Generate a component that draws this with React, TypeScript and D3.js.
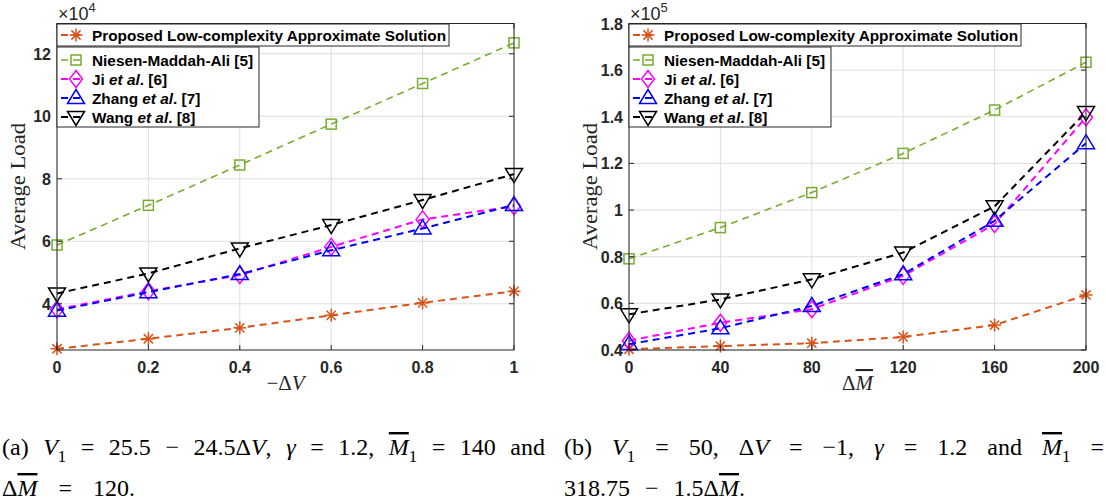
import React, { useLayoutEffect, useRef, useState } from "react";
import * as d3 from "d3";

// ---------- data ----------
const xLeft = [0, 0.2, 0.4, 0.6, 0.8, 1];
const xLeftTicks = [0, 0.2, 0.4, 0.6, 0.8, 1];
const yLeftTicks = [4, 6, 8, 10, 12];
const proposedA = [2.56, 2.88, 3.23, 3.63, 4.03, 4.4];
const niesenA = [5.88, 7.15, 8.44, 9.75, 11.05, 12.35];
const jiA = [3.82, 4.4, 4.92, 5.82, 6.7, 7.12];
const zhangA = [3.78, 4.37, 4.95, 5.71, 6.41, 7.16];
const wangA = [4.33, 4.97, 5.77, 6.52, 7.32, 8.15];

const xRight = [0, 40, 80, 120, 160, 200];
const xRightTicks = [0, 40, 80, 120, 160, 200];
const yRightTicks = [0.4, 0.6, 0.8, 1, 1.2, 1.4, 1.6, 1.8];
const proposedB = [0.403, 0.417, 0.429, 0.456, 0.507, 0.636];
const niesenB = [0.791, 0.925, 1.075, 1.243, 1.429, 1.634];
const jiB = [0.44, 0.517, 0.575, 0.718, 0.94, 1.398];
const zhangB = [0.425, 0.493, 0.589, 0.725, 0.954, 1.287];
const wangB = [0.553, 0.617, 0.703, 0.818, 1.016, 1.42];

const seriesNames = [
  [["Proposed Low-complexity Approximate Solution", false]],
  [["Niesen-Maddah-Ali [5]", false]],
  [["Ji ", false], ["et al", true], [". [6]", false]],
  [["Zhang ", false], ["et al", true], [". [7]", false]],
  [["Wang ", false], ["et al", true], [". [8]", false]],
] as [string, boolean][][];

const seriesStyle = [
  { color: "#D95319", marker: "star", lw: 2 },
  { color: "#77AC30", marker: "square", lw: 1.6 },
  { color: "#FF00FF", marker: "diamond", lw: 2 },
  { color: "#0000FF", marker: "tri-up", lw: 2 },
  { color: "#000000", marker: "tri-down", lw: 2 },
];

const AX = "#262626";
const GRID = "#dfdfdf";
const SANS = "'Liberation Sans', Arial, Helvetica, sans-serif";
const SERIF = "'Liberation Serif', 'Times New Roman', serif";

function Marker({ type, x, y, color }: { type: string; x: number; y: number; color: string }) {
  const p = { fill: "none", stroke: color, strokeWidth: 1.5 };
  if (type === "star") {
    const r = 6.5, d = 4.6;
    return (
      <g {...p}>
        <line x1={x - r} y1={y} x2={x + r} y2={y} />
        <line x1={x} y1={y - r} x2={x} y2={y + r} />
        <line x1={x - d} y1={y - d} x2={x + d} y2={y + d} />
        <line x1={x - d} y1={y + d} x2={x + d} y2={y - d} />
      </g>
    );
  }
  if (type === "square") return <rect x={x - 5} y={y - 5} width={10} height={10} {...p} />;
  if (type === "diamond")
    return <path d={`M${x},${y - 8.5}L${x + 6.5},${y}L${x},${y + 8.5}L${x - 6.5},${y}Z`} {...p} />;
  if (type === "tri-up")
    return <path d={`M${x},${y - 8.5}L${x + 8.5},${y + 5.5}L${x - 8.5},${y + 5.5}Z`} {...p} />;
  return <path d={`M${x},${y + 8.5}L${x + 8.5},${y - 5.5}L${x - 8.5},${y - 5.5}Z`} {...p} />;
}

type Seg = { t: string; it?: boolean; sub?: boolean; over?: boolean };

function Rich({ segs, size }: { segs: Seg[]; size: number }) {
  const out: any[] = [];
  let down = false;
  segs.forEach((s, i) => {
    let dy = 0;
    if (s.sub && !down) { dy = size * 0.28; down = true; }
    else if (!s.sub && down) { dy = -size * 0.28; down = false; }
    out.push(
      <tspan
        key={i}
        dy={dy || undefined}
        fontStyle={s.it ? "italic" : "normal"}
        fontSize={s.sub ? size * 0.7 : size}
        style={s.over ? { textDecoration: "overline" } : undefined}
      >
        {s.t}
      </tspan>
    );
  });
  return <>{out}</>;
}

function JText({ x, y, width, segs, size }: { x: number; y: number; width?: number; segs: Seg[]; size: number }) {
  const ref = useRef<SVGTextElement>(null);
  const [ws, setWs] = useState(0);
  useLayoutEffect(() => {
    if (!ref.current || !width) return;
    const len = ref.current.getComputedTextLength();
    const n = segs.map((s) => s.t).join("").split(" ").length - 1;
    if (n > 0) setWs(Math.max(0, (width - len) / n));
  }, []);
  return (
    <text ref={ref} x={x} y={y} fontFamily={SERIF} fontSize={size} fill="#000"
      style={{ whiteSpace: "pre", wordSpacing: ws + "px" }}>
      <Rich segs={segs} size={size} />
    </text>
  );
}

function Panel(props: {
  x0: number; x1: number; xs: number[]; xTicks: number[]; yDomain: [number, number];
  yTicks: number[]; data: number[][]; exp: string; xlabel: Seg[];
}) {
  const { x0, x1, xs, xTicks, yDomain, yTicks, data, exp, xlabel } = props;
  const top = 23.5, bottom = 350;
  const x = d3.scaleLinear().domain([xs[0], xs[xs.length - 1]]).range([x0, x1]);
  const y = d3.scaleLinear().domain(yDomain).range([bottom, top]);
  const line = d3.line<number>().x((_, i) => x(xs[i])).y((v) => y(v));
  const fmt = (v: number) => String(Math.round(v * 10) / 10);
  const tl = 5;
  const lgX = x0, lgW1 = 392, lgW2 = 202;
  return (
    <g>
      {xTicks.map((t) => (
        <line key={"gx" + t} x1={x(t)} x2={x(t)} y1={top} y2={bottom} stroke={GRID} strokeWidth={1} />
      ))}
      {yTicks.map((t) => (
        <line key={"gy" + t} x1={x0} x2={x1} y1={y(t)} y2={y(t)} stroke={GRID} strokeWidth={1} />
      ))}
      {data.map((d, si) => (
        <g key={"s" + si}>
          <path d={line(d) || ""} fill="none" stroke={seriesStyle[si].color}
            strokeWidth={seriesStyle[si].lw} strokeDasharray="7 5" />
          {d.map((v, i) => (
            <Marker key={i} type={seriesStyle[si].marker} x={x(xs[i])} y={y(v)} color={seriesStyle[si].color} />
          ))}
        </g>
      ))}
      <rect x={x0} y={top} width={x1 - x0} height={bottom - top} fill="none" stroke={AX} strokeWidth={1} />
      {xTicks.map((t) => (
        <g key={"tx" + t}>
          <line x1={x(t)} x2={x(t)} y1={bottom} y2={bottom - tl} stroke={AX} />
          <line x1={x(t)} x2={x(t)} y1={top} y2={top + tl} stroke={AX} />
          <text x={x(t)} y={373} textAnchor="middle" fontFamily={SANS} fontWeight="bold" fontSize={16} fill={AX}>
            {fmt(t)}
          </text>
        </g>
      ))}
      {yTicks.map((t) => (
        <g key={"ty" + t}>
          <line x1={x0} x2={x0 + tl} y1={y(t)} y2={y(t)} stroke={AX} />
          <line x1={x1} x2={x1 - tl} y1={y(t)} y2={y(t)} stroke={AX} />
          <text x={x0 - 6} y={y(t) + 6} textAnchor="end" fontFamily={SANS} fontWeight="bold" fontSize={16} fill={AX}>
            {fmt(t)}
          </text>
        </g>
      ))}
      <text x={x0 + 1} y={20} fontFamily={SANS} fontSize={18} fill={AX}>
        ×10<tspan fontSize={13} dy={-8}>{exp}</tspan>
      </text>
      <text x={(x0 + x1) / 2} y={390} textAnchor="middle" fontFamily={SERIF} fontSize={21} fill={AX} style={{ whiteSpace: "pre" }}>
        <Rich segs={xlabel} size={21} />
      </text>
      <text transform={`translate(${x0 - 32},186.5) rotate(-90)`} textAnchor="middle" fontFamily={SERIF}
        fontSize={22} fill={AX} textLength={127} lengthAdjust="spacingAndGlyphs">
        Average Load
      </text>
      <rect x={lgX} y={24} width={lgW1} height={22} fill="#fff" stroke={AX} strokeWidth={1} />
      <rect x={lgX} y={47} width={lgW2} height={80} fill="#fff" stroke={AX} strokeWidth={1} />
      {seriesNames.map((nm, i) => {
        const cy = i === 0 ? 35 : [60, 79, 98, 117][i - 1];
        const st = seriesStyle[i];
        return (
          <g key={"lg" + i}>
            <line x1={lgX + 4} x2={lgX + 25} y1={cy} y2={cy} stroke={st.color} strokeWidth={st.lw} strokeDasharray="7 5" />
            <Marker type={st.marker} x={lgX + 19} y={cy} color={st.color} />
            <text x={lgX + 35} y={cy + 5.5} fontFamily={SANS} fontWeight="bold" fontSize={15.35} fill="#000" style={{ whiteSpace: "pre" }}>
              {nm.map(([t, it], k) => (
                <tspan key={k} fontStyle={it ? "italic" : "normal"}>{t}</tspan>
              ))}
            </text>
          </g>
        );
      })}
    </g>
  );
}

const capA1: Seg[] = [
  { t: "(a) " }, { t: "V", it: true }, { t: "1", sub: true }, { t: " = 25.5 − 24.5Δ" }, { t: "V", it: true },
  { t: ", " }, { t: "γ", it: true }, { t: " = 1.2, " }, { t: "M", it: true, over: true }, { t: "1", sub: true },
  { t: " = 140 and" },
];
const capA2: Seg[] = [{ t: "Δ" }, { t: "M", it: true, over: true }, { t: " = 120." }];
const capB1: Seg[] = [
  { t: "(b) " }, { t: "V", it: true }, { t: "1", sub: true }, { t: " = 50, Δ" }, { t: "V", it: true },
  { t: " = −1, " }, { t: "γ", it: true }, { t: " = 1.2 and " }, { t: "M", it: true, over: true }, { t: "1", sub: true },
  { t: " =" },
];
const capB2: Seg[] = [{ t: "318.75 − 1.5Δ" }, { t: "M", it: true, over: true }, { t: "." }];

export default function App() {
  const dataA = [proposedA, niesenA, jiA, zhangA, wangA];
  const dataB = [proposedB, niesenB, jiB, zhangB, wangB];
  const CS = 24;
  return (
    <svg width={1106} height={502} style={{ position: "absolute", left: 0, top: 0, background: "#fff" }}>
      <rect width={1106} height={502} fill="#fff" />
      <Panel x0={57} x1={514} xs={xLeft} xTicks={xLeftTicks} yDomain={[2.52, 12.97]} yTicks={yLeftTicks}
        data={dataA} exp="4" xlabel={[{ t: "−Δ" }, { t: "V", it: true }]} />
      <Panel x0={629} x1={1086} xs={xRight} xTicks={xRightTicks} yDomain={[0.4, 1.8]} yTicks={yRightTicks}
        data={dataB} exp="5" xlabel={[{ t: "Δ" }, { t: "M", it: true, over: true }]} />
      <JText x={2} y={455} width={543} segs={capA1} size={CS} />
      <JText x={2} y={496} width={133} segs={capA2} size={CS} />
      <JText x={564} y={455} width={540} segs={capB1} size={CS} />
      <JText x={564} y={496} width={181} segs={capB2} size={CS} />
    </svg>
  );
}
